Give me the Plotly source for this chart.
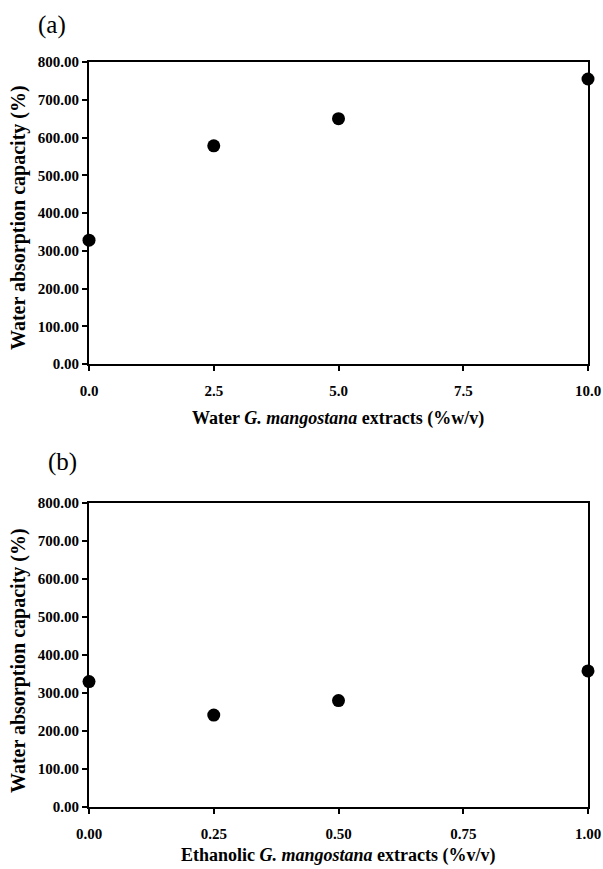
import plotly.graph_objects as go

# Panel (a): water extract
water_conc = [0.0, 2.5, 5.0, 10.0]
water_wac = [328, 578, 650, 755]
water_err = [12, 8, 8, 15]

# Panel (b): ethanolic extract
eth_conc = [0.0, 0.25, 0.50, 1.00]
eth_wac = [330, 242, 280, 358]
eth_err = [12, 8, 8, 10]

a_ticks = [0.0, 2.5, 5.0, 7.5, 10.0]
a_ticktext = ["0.0", "2.5", "5.0", "7.5", "10.0"]
b_ticks = [0.0, 0.25, 0.50, 0.75, 1.00]
b_ticktext = ["0.00", "0.25", "0.50", "0.75", "1.00"]
y_ticks = [0, 100, 200, 300, 400, 500, 600, 700, 800]
y_ticktext = ["0.00", "100.00", "200.00", "300.00", "400.00", "500.00", "600.00", "700.00", "800.00"]

W, H = 603, 869
FONT = "Liberation Serif"

fig = go.Figure()

def px_x(p):
    return p / W

def px_y(p):
    return 1 - p / H

fig.add_trace(go.Scatter(
    x=water_conc, y=water_wac, mode="markers",
    marker=dict(color="black", size=13),
    error_y=dict(type="data", array=water_err, color="black", thickness=2, width=0),
    cliponaxis=False, xaxis="x", yaxis="y", showlegend=False))
fig.add_trace(go.Scatter(
    x=eth_conc, y=eth_wac, mode="markers",
    marker=dict(color="black", size=13),
    error_y=dict(type="data", array=eth_err, color="black", thickness=2, width=0),
    cliponaxis=False, xaxis="x2", yaxis="y2", showlegend=False))

xdom = [px_x(89), px_x(588)]
common_axis = dict(showline=True, linecolor="black", linewidth=2, mirror=True,
                   showgrid=False, zeroline=False, ticks="outside", ticklen=5,
                   tickwidth=2, tickcolor="black", automargin=False,
                   tickfont=dict(family=FONT, size=15, color="black", weight="bold"))

fig.update_layout(
    width=W, height=H, margin=dict(l=0, r=0, t=0, b=0),
    paper_bgcolor="white", plot_bgcolor="white",
    font=dict(family=FONT, color="black"),
    xaxis=dict(domain=xdom, range=[0, 10], tickvals=a_ticks, ticktext=a_ticktext,
               anchor="y", ticklabelstandoff=7, **common_axis),
    yaxis=dict(domain=[px_y(364), px_y(62)], range=[0, 800], tickvals=y_ticks,
               ticktext=y_ticktext, anchor="x", **common_axis),
    xaxis2=dict(domain=xdom, range=[0, 1], tickvals=b_ticks, ticktext=b_ticktext,
                anchor="y2", ticklabelstandoff=7, **common_axis),
    yaxis2=dict(domain=[px_y(807), px_y(503)], range=[0, 800], tickvals=y_ticks,
                ticktext=y_ticktext, anchor="x2", **common_axis),
)

def add_text(text, xp, yp, size, angle=0):
    return dict(text=text, x=px_x(xp), y=px_y(yp), xref="paper", yref="paper",
                xanchor="center", yanchor="middle", textangle=angle, showarrow=False,
                font=dict(family=FONT, size=size, color="black"))

ann = [
    add_text("(a)", 52, 25, 25),
    add_text("(b)", 62, 462, 25),
    add_text("<b>Water absorption capacity (%)</b>", 18, 218, 20, -90),
    add_text("<b>Water absorption capacity (%)</b>", 18, 661, 20, -90),
    add_text("<b>Water <i>G. mangostana</i> extracts (%w/v)</b>", 338, 418, 18),
    add_text("<b>Ethanolic <i>G. mangostana</i> extracts (%v/v)</b>", 338, 855, 18),
]
fig.update_layout(annotations=ann)

fig.write_html("out.html")
